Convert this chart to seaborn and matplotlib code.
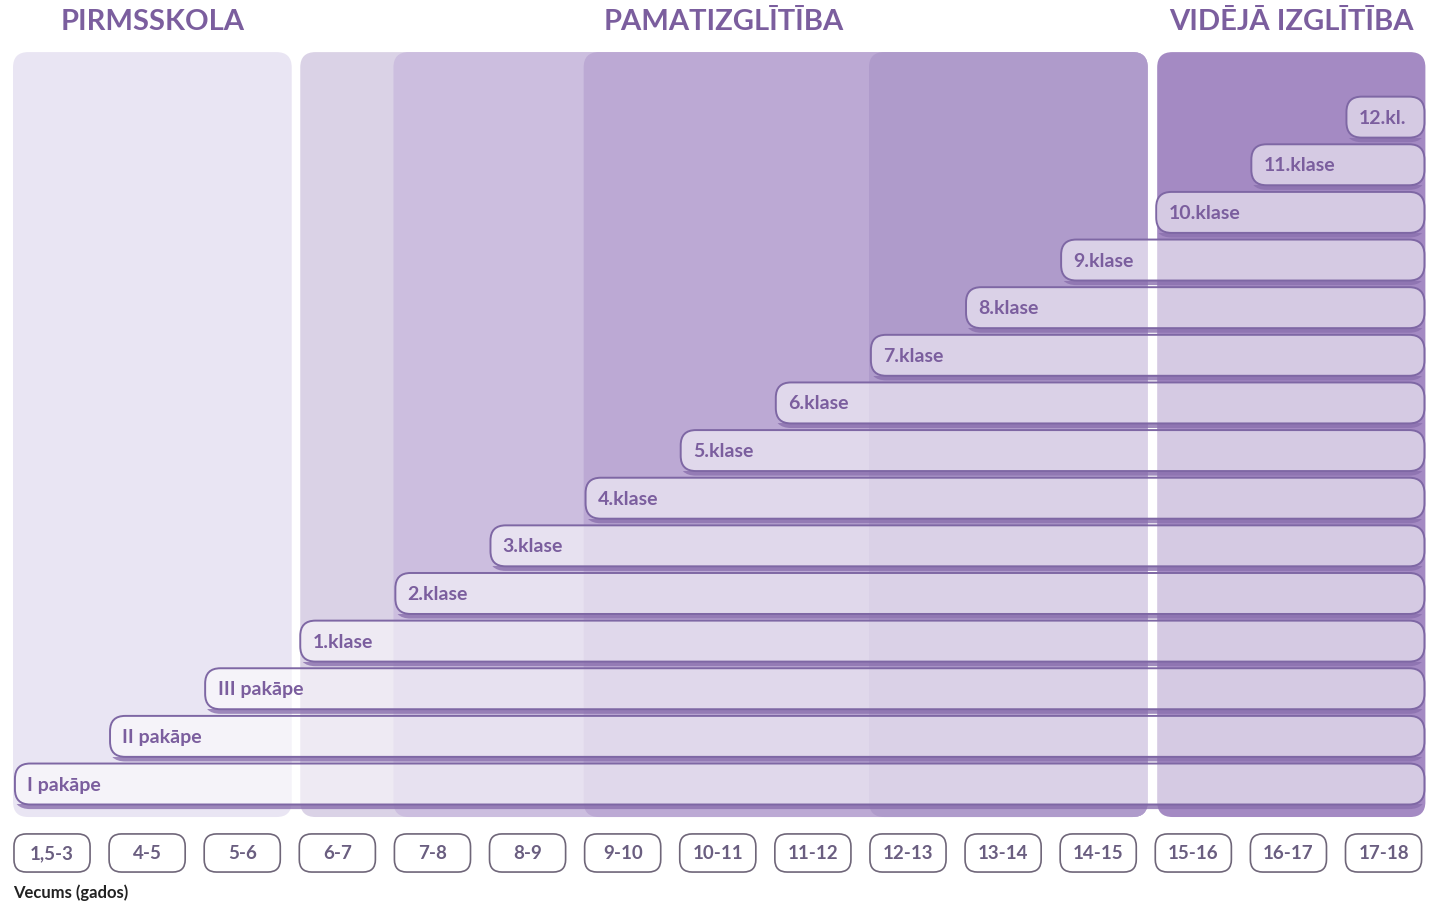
import matplotlib
matplotlib.use("Agg")
import matplotlib.pyplot as plt
from matplotlib.patches import FancyBboxPatch, Rectangle
import pandas as pd
import seaborn as sns

sns.set_style("white")
plt.rcParams['font.family'] = ['Lato', 'DejaVu Sans']

# izglītības posmi (rindas no apakšas uz augšu) un vecuma kolonna, kurā tie sākas
levels = ["I pakāpe", "II pakāpe", "III pakāpe", "1.klase", "2.klase", "3.klase",
          "4.klase", "5.klase", "6.klase", "7.klase", "8.klase", "9.klase",
          "10.klase", "11.klase", "12.kl."]
level_start = [0, 1, 2, 3, 4, 5, 6, 7, 8, 9, 10, 11, 12, 13, 14]
level_end = [15, 15, 15, 15, 15, 15, 15, 15, 15, 15, 15, 15, 15, 15, 15]

ages = ["1,5-3", "4-5", "5-6", "6-7", "7-8", "8-9", "9-10", "10-11", "11-12",
        "12-13", "13-14", "14-15", "15-16", "16-17", "17-18"]

stages = ["PIRMSSKOLA", "PAMATIZGLĪTĪBA", "VIDĒJĀ IZGLĪTĪBA"]
stage_start = [0, 3, 12]
stage_end = [3, 12, 15]
stage_colors = ["#E9E5F3", "#DAD2E6", "#A48AC3"]

# pamatizglītības fona slāņi (sākuma kolonna)
pamat_layers = [4, 6, 9]
pamat_colors = ["#CCBEDF", "#BCA9D4", "#AF9BCB"]

PURPLE = "#7B5E9E"
EDGE = "#7E67A4"
BOX_W = 0.82          # kolonnas lodziņa platums
ASPECT = 95.1 / 47.64  # px uz x vienību / px uz y vienību

df = pd.DataFrame({"level": levels, "start": level_start, "end": level_end})
df["row"] = df.index

fig = plt.figure(figsize=(14.33, 9.04), dpi=100)
ax = fig.add_axes([0, 0, 1, 1])

sns.barplot(data=df, x="end", y="row", orient="y", native_scale=True,
            width=0.86, errorbar=None, color="white", ax=ax)


def rbox(x0, y0, w, h, r, **kw):
    p = FancyBboxPatch((x0, y0), w, h,
                       boxstyle=f"round,pad=0,rounding_size={r}",
                       mutation_aspect=ASPECT, **kw)
    ax.add_patch(p)
    return p


# fona paneļi
pan_y0, pan_y1 = -0.693, 15.365
gaps = [(0.0, 0.07), (0.02, 0.07), (0.03, 0.15)]
for s0, s1, col, (g0, g1) in zip(stage_start, stage_end, stage_colors, gaps):
    rbox(s0 + g0, pan_y0, (s1 - g1) - (s0 + g0), pan_y1 - pan_y0, 0.16,
         facecolor=col, edgecolor="none", zorder=0)
for s0, col in zip(pamat_layers, pamat_colors):
    rbox(s0, pan_y0, 11.93 - s0, pan_y1 - pan_y0, 0.16,
         facecolor=col, edgecolor="none", zorder=0.1 + s0 / 100)

# joslas: seaborn stabiņus pārveido par noapaļotām joslām
bars = [p for p in ax.patches if not isinstance(p, FancyBboxPatch)]
for p in bars:
    yc = p.get_y() + p.get_height() / 2
    h = p.get_height()
    row = int(round(yc))
    rec = df.loc[df["row"] == row].iloc[0]
    x0 = rec["start"] + 0.02
    x1 = rec["end"] - 0.16
    p.remove()
    # ēna tikai zem joslas apakšējās malas
    sh = rbox(x0, yc - h / 2 - 0.05, x1 - x0, h, 0.16,
              facecolor="none", edgecolor="#8A70AE", linewidth=3.2,
              alpha=0.8, zorder=2)
    clip = Rectangle((x0 - 1, yc - h / 2 - 1), x1 - x0 + 2, 1.0,
                     transform=ax.transData)
    sh.set_clip_path(clip)
    rbox(x0, yc - h / 2, x1 - x0, h, 0.16,
         facecolor=(1, 1, 1, 0.55), edgecolor=EDGE, linewidth=1.4, zorder=3)
    ax.text(x0 + 0.13, yc, rec["level"], ha="left", va="center",
            fontsize=14, fontweight="bold", color=PURPLE, zorder=4)

# vecuma lodziņi
for i, a in enumerate(ages):
    rbox(i + 0.01, -1.448 - 0.4, BOX_W - 0.02, 0.8, 0.13,
         facecolor="white", edgecolor="#6F6679", linewidth=1.2, zorder=3)
    ax.text(i + BOX_W / 2, -1.448, a, ha="center", va="center",
            fontsize=13.5, fontweight="bold", color="#6A5E80", zorder=4)

ax.text(0.0, -2.27, "Vecums (gados)", ha="left", va="center",
        fontsize=12, fontweight="bold", color="#222222")

# virsraksti
for name, s0, s1, (g0, g1) in zip(stages, stage_start, stage_end, gaps):
    ax.text(((s0 + g0) + (s1 - g1)) / 2, 16.02, name, ha="center", va="center",
            fontsize=21, fontweight="bold", color=PURPLE)

ax.set_xlim(-0.137, 14.93)
ax.set_ylim(-2.498, 16.48)
ax.axis("off")

fig.savefig("out.png", dpi=100)
